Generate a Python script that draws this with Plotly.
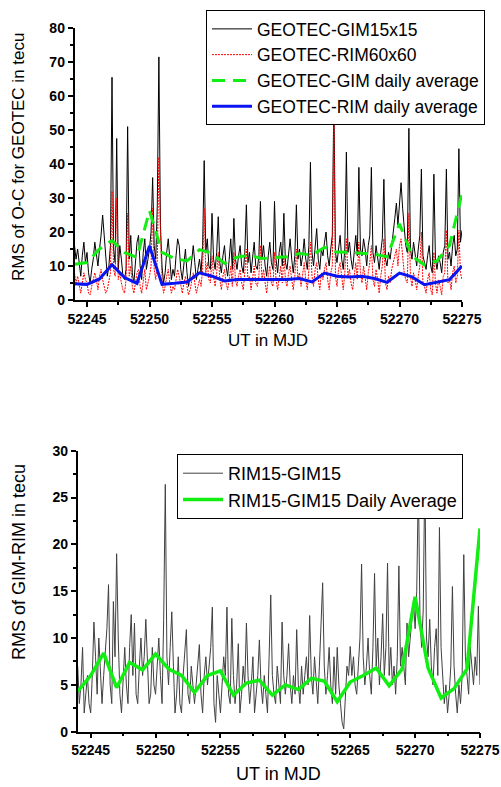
import numpy as np
import plotly.graph_objects as go

# ---------------- data ----------------
START_MJD = 52244
SAMPLES_PER_DAY = 8  # 3-hourly samples

# Top panel: GEOTEC-GIM15x15 (black), 8 samples per day, 52244 .. 52275
gim15 = [
    16, 12, 15, 10, 7, 13, 17, 11,        # 52244
    14, 8, 5, 9, 12, 17, 14, 10,          # 52245
    15, 19, 25, 18, 12, 7, 10, 16,        # 52246
    65.5, 15, 11, 47.5, 9, 16, 12, 7,     # 52247
    6, 9, 51, 12, 19, 8, 5, 11,           # 52248
    17, 19, 10, 6, 14, 18, 9, 12,         # 52249
    15, 20, 36, 16, 12, 28, 71.5, 22,     # 52250
    10, 5, 8, 14, 18, 12, 6, 9,           # 52251
    7, 13, 18, 16, 9, 6, 10, 15,          # 52252
    8, 4, 7, 12, 16, 11, 6, 9,            # 52253
    12, 8, 16, 41, 14, 18, 10, 9,         # 52254
    25.5, 12, 9, 14, 24.5, 11, 8, 13,     # 52255
    16, 10, 7, 12, 18, 9, 24, 12,         # 52256
    9, 13, 16, 10, 8, 14, 28, 11,         # 52257
    14, 8, 12, 17, 10, 9, 13, 29,         # 52258
    12, 16, 10, 7, 13, 17, 11, 9,         # 52259
    29, 12, 8, 14, 17, 10, 25.5, 11,      # 52260
    9, 14, 18, 12, 8, 13, 28, 12,         # 52261
    15, 10, 13, 18, 12, 9, 16, 40.5,      # 52262
    14, 10, 17, 21, 12, 9, 15, 13,        # 52263
    17, 20, 13, 10, 15, 19, 60, 14,       # 52264
    11, 16, 19, 12, 9, 15, 43.5, 14,      # 52265
    17, 12, 9, 14, 19, 13, 39, 15,        # 52266
    13, 18, 15, 10, 16, 19, 39, 14,       # 52267
    11, 16, 13, 9, 14, 18, 35.5, 12,      # 52268
    10, 14, 12, 17, 20, 24, 28.5, 22,     # 52269
    30, 34.5, 27, 20, 16, 14, 50.5, 15,   # 52270
    12, 17, 14, 10, 15, 19, 38.5, 13,     # 52271
    11, 9, 13, 16, 10, 8, 37, 12,         # 52272
    9, 13, 11, 8, 14, 16, 38.5, 12,       # 52273
    14, 10, 16, 19, 13, 15, 44.5, 17,     # 52274
    20.5,                                 # 52275
]

# Top panel: GEOTEC-RIM60x60 (red dotted)
rim60 = [
    8, 5, 7, 4, 2, 5, 8, 6,
    5, 2, 1.5, 4, 6, 8, 6, 3,
    7, 9, 6, 4, 2, 3, 6, 8,
    32, 9, 7, 30, 6, 8, 5, 3,
    2, 6, 25.5, 7, 10, 4, 2, 5,
    8, 9, 4, 2, 6, 9, 3, 5,
    7, 10, 27, 9, 6, 12, 42, 20,
    6, 2, 4, 7, 9, 5, 2, 4,
    3, 6, 9, 7, 4, 2, 5, 7,
    4, 1.5, 3, 6, 8, 5, 2, 4,
    6, 4, 9, 27, 8, 11, 6, 5,
    13, 7, 4, 8, 14, 6, 3, 7,
    9, 5, 3, 6, 10, 4, 14, 6,
    4, 7, 9, 5, 3, 8, 15, 6,
    7, 3, 6, 10, 5, 4, 7, 16,
    6, 9, 5, 2, 7, 10, 5, 4,
    14, 6, 3, 7, 10, 5, 13, 6,
    4, 8, 10, 6, 3, 7, 15, 6,
    8, 4, 7, 11, 6, 3, 9, 17,
    7, 4, 9, 11, 6, 3, 8, 6,
    9, 11, 6, 3, 8, 10, 55, 7,
    4, 9, 11, 6, 3, 8, 18, 7,
    9, 5, 3, 7, 11, 6, 17, 8,
    5, 10, 7, 3, 8, 11, 16, 6,
    4, 9, 6, 2, 7, 10, 18, 5,
    3, 7, 5, 9, 11, 13, 15, 10,
    16, 18, 12, 8, 6, 5, 25.5, 7,
    4, 8, 6, 3, 7, 10, 20, 5,
    4, 2, 6, 8, 3, 1.5, 14, 5,
    2, 6, 4, 1.5, 7, 8, 20.5, 5,
    6, 3, 8, 10, 5, 7, 20.5, 8,
    6,
]

# Daily averages (one per day 52244 .. 52275)
gim_daily = [10.5, 11, 15, 17.5, 14, 12.5, 26.3, 14, 12.2, 11.5, 14.8, 13.7,
             10.8, 12.6, 13.2, 12.2, 12.5, 12.7, 13.7, 13.2, 15.5, 14.1, 14,
             13.7, 13.5, 12.7, 22.4, 13, 10.3, 11.5, 16, 31.4]
rim_daily = [4.8, 4.6, 6.2, 10.4, 6.6, 4.9, 15.9, 4.6, 4.9, 5.3, 8, 7,
             5.6, 6, 6, 6, 6, 6, 6.3, 5.3, 7.9, 7, 6.8, 7, 6.3, 5.2, 7.9,
             6.8, 4.5, 5.3, 6, 10]

# Bottom panel: RIM15-GIM15 (gray)
rim_gim = [
    7, 3, 5, 9, 2, 4, 6, 3,               # 52244
    2, 6, 11.7, 8, 4, 10, 7, 3,           # 52245
    6, 9, 11, 15.7, 5, 3, 13.9, 8,        # 52246
    19, 10, 4, 2, 6, 9, 5, 3,             # 52247
    9, 12.5, 6, 11.6, 4, 3, 7, 10,        # 52248
    6, 8, 12, 7, 3, 4, 9, 5,              # 52249
    4, 7, 10, 6, 3, 12, 26.4, 8,          # 52250
    5, 9, 12.8, 7, 2, 4, 8, 3,            # 52251
    2, 6, 8, 10.9, 4, 3, 7, 5,            # 52252
    3, 5, 7, 9.3, 4, 2, 6, 8,             # 52253
    5, 7, 9, 13.3, 3, 1, 6, 4,            # 52254
    2, 5, 8, 6, 13.3, 4, 3, 12.1,         # 52255
    6, 3, 5, 9.4, 2, 4, 7, 5,             # 52256
    11.6, 6, 3, 5, 8, 2, 4, 6,            # 52257
    9.8, 5, 3, 6, 4, 2, 8, 14.6,          # 52258
    6, 4, 3, 7, 5, 3, 11.7, 6,            # 52259
    4, 6, 9.4, 5, 3, 6, 4, 10.9,          # 52260
    5, 3, 7, 4, 6, 8, 5, 12.4,            # 52261
    6, 4, 8, 5, 3, 7, 11.7, 15.9,         # 52262
    7, 4, 6, 9, 5, 3, 8, 4,               # 52263
    9, 5, 3, 1, 0.3, 4, 7, 6,             # 52264
    9.1, 6, 8, 5, 4, 7, 10, 17.9,         # 52265
    8, 5, 7, 10, 6, 4, 9, 16.9,           # 52266
    7, 10, 5, 8, 12.6, 6, 9, 18,          # 52267
    6, 9, 5, 7, 4, 8, 17.7, 7,            # 52268
    9, 7, 5, 11.6, 8, 10, 12, 14,         # 52269
    11, 15, 27, 12, 9, 13, 28, 10,        # 52270
    8, 12, 7, 5, 9, 11, 6, 21.8,          # 52271
    9, 6, 3, 5, 2, 4, 7, 15.5,            # 52272
    7, 4, 2, 5, 3, 6, 18.9, 8,            # 52273
    6, 4, 9, 7, 5, 8, 6, 13.4,            # 52274
    5,                                    # 52275
]
rim_gim_daily = [4.3, 6.0, 8.4, 4.7, 7.4, 6.6, 8.3, 6.7, 6.0, 4.2, 6.0, 6.5,
                 3.9, 5.2, 5.5, 3.9, 5.0, 4.5, 5.7, 5.4, 3.2, 5.3, 6.0, 6.8,
                 4.9, 6.7, 14.4, 6.8, 3.6, 4.6, 6.7, 21.7]

x_ticks_major = 5
# ---------------------------------------

t_fine = START_MJD + np.arange(len(gim15)) / SAMPLES_PER_DAY
t_day = START_MJD + np.arange(len(gim_daily))

FONT = "Liberation Sans, Arial, Helvetica, sans-serif"
W, H = 501, 787

fig = go.Figure()
fig.add_trace(go.Scatter(x=t_fine, y=gim15, mode="lines", name="GEOTEC-GIM15x15",
                         line=dict(color="#000000", width=1), xaxis="x", yaxis="y",
                         legend="legend"))
fig.add_trace(go.Scatter(x=t_fine, y=rim60, mode="lines", name="GEOTEC-RIM60x60",
                         line=dict(color="#ff0000", width=1, dash="2px,1px"),
                         xaxis="x", yaxis="y", legend="legend"))
fig.add_trace(go.Scatter(x=t_day, y=gim_daily, mode="lines", name="GEOTEC-GIM daily average",
                         line=dict(color="#11ee11", width=3, dash="13px,8px"),
                         xaxis="x", yaxis="y", legend="legend"))
fig.add_trace(go.Scatter(x=t_day, y=rim_daily, mode="lines", name="GEOTEC-RIM daily average",
                         line=dict(color="#0a14f0", width=3), xaxis="x", yaxis="y",
                         legend="legend"))
fig.add_trace(go.Scatter(x=t_fine, y=rim_gim, mode="lines", name="RIM15-GIM15",
                         line=dict(color="#404040", width=1), xaxis="x2", yaxis="y2",
                         legend="legend2"))
fig.add_trace(go.Scatter(x=t_day, y=rim_gim_daily, mode="lines", name="RIM15-GIM15 Daily Average",
                         line=dict(color="#11ee11", width=3.5), xaxis="x2", yaxis="y2",
                         legend="legend2"))

tickfont = dict(family=FONT, size=14, color="black", weight="bold")


def axis_common(dtick, minor_dtick):
    return dict(showline=True, linecolor="black", linewidth=1.5, ticks="outside",
                ticklen=5, tickwidth=1.5, tickcolor="black", dtick=dtick, tick0=0,
                tickformat="d",
                minor=dict(ticks="outside", dtick=minor_dtick, ticklen=3, tickwidth=1.5,
                           tickcolor="black", showgrid=False),
                tickfont=tickfont, showgrid=False, zeroline=False, automargin=False,
                fixedrange=True)


fig.update_layout(
    width=W, height=H,
    margin=dict(l=0, r=0, t=0, b=0, autoexpand=False),
    paper_bgcolor="white", plot_bgcolor="white",
    font=dict(family=FONT, color="black"),
    xaxis=dict(domain=[74.5 / W, 462 / W], range=[52244, 52275], anchor="y",
               **axis_common(x_ticks_major, 2.5)),
    yaxis=dict(domain=[1 - 300 / H, 1 - 28 / H], range=[0, 80], anchor="x",
               **axis_common(10, 5)),
    xaxis2=dict(domain=[77.7 / W, 480 / W], range=[52244, 52275], anchor="y2",
                **axis_common(x_ticks_major, 2.5)),
    yaxis2=dict(domain=[1 - 731.7 / H, 1 - 450.7 / H], range=[0, 30], anchor="x2",
                **axis_common(5, 2.5)),
    legend=dict(x=206 / W, y=1 - 10 / H, xanchor="left", yanchor="top",
                bgcolor="white", bordercolor="black", borderwidth=1, itemwidth=40,
                font=dict(family=FONT, size=17.5, color="black"), tracegroupgap=0),
    legend2=dict(x=177 / W, y=1 - 454 / H, xanchor="left", yanchor="top",
                 bgcolor="white", bordercolor="black", borderwidth=1, itemwidth=40,
                 font=dict(family=FONT, size=18, color="black"), tracegroupgap=0),
    annotations=[
        dict(text="UT in MJD", x=268 / W, y=1 - 340 / H, xref="paper", yref="paper",
             showarrow=False, xanchor="center", yanchor="middle",
             font=dict(family=FONT, size=17, color="black")),
        dict(text="RMS of O-C for GEOTEC in tecu", x=19 / W, y=1 - 157 / H,
             xref="paper", yref="paper", showarrow=False, textangle=-90,
             xanchor="center", yanchor="middle",
             font=dict(family=FONT, size=17, color="black")),
        dict(text="UT in MJD", x=278 / W, y=1 - 774 / H, xref="paper", yref="paper",
             showarrow=False, xanchor="center", yanchor="middle",
             font=dict(family=FONT, size=18, color="black")),
        dict(text="RMS of GIM-RIM in tecu", x=19 / W, y=1 - 562 / H,
             xref="paper", yref="paper", showarrow=False, textangle=-90,
             xanchor="center", yanchor="middle",
             font=dict(family=FONT, size=18, color="black")),
    ],
)

fig.write_html(
    "out.html",
    config={"displayModeBar": False},
    post_script="document.body.style.margin='0px';"
                "document.body.style.padding='0px';"
                "document.body.style.overflow='hidden';"
                "document.documentElement.style.overflow='hidden';",
)
